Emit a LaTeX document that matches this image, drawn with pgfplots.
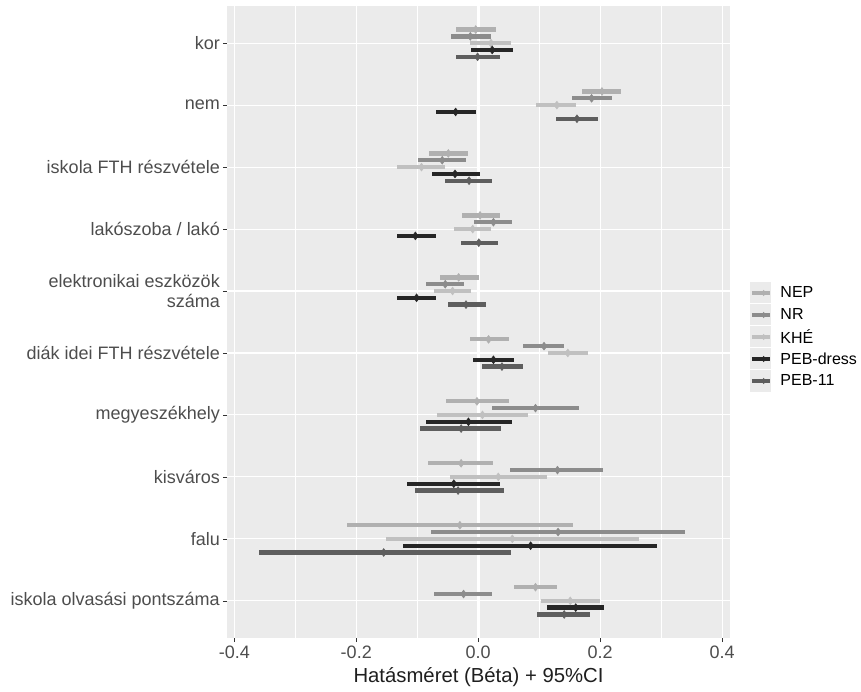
\documentclass[border=0pt]{standalone}
\usepackage{fontspec}
\setmainfont{Liberation Sans}
\usepackage{pgfplots}
\usepackage{pgfplotstable}
\pgfplotsset{compat=1.18}
\usetikzlibrary{shapes.geometric}

\definecolor{panelbg}{HTML}{EBEBEB}
\definecolor{keybg}{HTML}{EBEBEB}
\definecolor{tickgrey}{HTML}{4D4D4D}
\definecolor{cNEP}{HTML}{B0B0B0}
\definecolor{cNR}{HTML}{8C8C8C}
\definecolor{cKHE}{HTML}{C0C0C0}
\definecolor{cDRESS}{HTML}{262626}
\definecolor{cPEB}{HTML}{5E5E5E}

% cat: 0 = kor (felul) ... 9 = iskola olvasasi pontszama
\pgfplotstableread{
cat est lo hi
0 -0.004 -0.036 0.029
1 0.203 0.170 0.235
2 -0.049 -0.080 -0.016
3 0.003 -0.027 0.036
4 -0.032 -0.062 0.001
5 0.017 -0.013 0.050
6 -0.002 -0.052 0.050
7 -0.028 -0.083 0.025
8 -0.030 -0.215 0.155
9 0.094 0.058 0.129
}\nep
\pgfplotstableread{
cat est lo hi
0 -0.013 -0.045 0.021
1 0.186 0.154 0.220
2 -0.059 -0.098 -0.020
3 0.025 -0.007 0.056
4 -0.054 -0.086 -0.024
5 0.108 0.074 0.141
6 0.094 0.023 0.166
7 0.130 0.052 0.204
8 0.131 -0.077 0.339
9 -0.024 -0.072 0.023
}\nr
\pgfplotstableread{
cat est lo hi
0 0.021 -0.013 0.054
1 0.129 0.095 0.161
2 -0.093 -0.133 -0.055
3 -0.009 -0.039 0.021
4 -0.042 -0.072 -0.012
5 0.147 0.115 0.180
6 0.007 -0.068 0.081
7 0.033 -0.046 0.113
8 0.056 -0.152 0.264
9 0.151 0.103 0.200
}\khe
\pgfplotstableread{
cat est lo hi
0 0.023 -0.011 0.057
1 -0.037 -0.070 -0.004
2 -0.038 -0.076 0.003
3 -0.103 -0.133 -0.070
4 -0.101 -0.133 -0.070
5 0.025 -0.009 0.058
6 -0.016 -0.086 0.056
7 -0.040 -0.117 0.036
8 0.086 -0.123 0.294
9 0.160 0.113 0.207
}\dress
\pgfplotstableread{
cat est lo hi
0 -0.001 -0.036 0.036
1 0.162 0.127 0.196
2 -0.015 -0.054 0.023
3 0.001 -0.029 0.033
4 -0.020 -0.050 0.013
5 0.039 0.007 0.074
6 -0.028 -0.095 0.037
7 -0.033 -0.103 0.042
8 -0.155 -0.360 0.054
9 0.141 0.097 0.184
}\peb

\pgfplotsset{
  ci/.style={
    only marks, mark=diamond*, mark size=4pt,
    color=#1, mark options={fill=#1, draw=#1},
    error bars/.cd, x dir=both, x explicit, error mark=none,
    error bar style={line width=4.3pt, #1},
    /pgfplots/.cd,
  },
  kulcs/.style={
    legend image code/.code={
      \fill[keybg, draw=none] (0pt,-10.5pt) rectangle (21pt,10.5pt);
      \draw[#1, line width=3.5pt] (1.5pt,0pt) -- (19.5pt,0pt);
      \node[diamond, fill=#1, draw=none, inner sep=0pt, minimum width=5pt, minimum height=6.5pt] at (10.5pt,0pt) {};
      \path[draw=none, fill=none] (0pt,0pt) -- (30pt,0pt);
    }
  },
}

\begin{document}
\begin{tikzpicture}
\useasboundingbox (-227pt,-54pt) rectangle (634pt,638pt);
\begin{axis}[
  scale only axis,
  width=503pt, height=632pt,
  xmin=-0.412, xmax=0.413,
  ymin=-0.6, ymax=9.6,
  y dir=reverse,
  axis background/.style={fill=panelbg},
  axis line style={draw=none},
  tick pos=left,
  tick align=outside,
  major tick length=4pt,
  minor tick length=0pt,
  tick style={black!80, line width=0.6pt},
  xtick={-0.4,-0.2,0,0.2,0.4},
  xticklabels={-0.4,-0.2,0.0,0.2,0.4},
  minor xtick={-0.3,-0.1,0.1,0.3},
  ytick={0,...,9},
  yticklabels={kor, nem, iskola FTH részvétele, lakószoba / lakó, {elektronikai eszközök\\száma}, diák idei FTH részvétele, megyeszékhely, kisváros, falu, iskola olvasási pontszáma},
  xmajorgrids, xminorgrids, ymajorgrids,
  major grid style={white, line width=1.1pt},
  minor grid style={white, line width=0.55pt},
  yticklabel style={font=\fontsize{18}{19.5}\selectfont, text=tickgrey, align=right, inner sep=0pt, xshift=-3pt},
  xticklabel style={font=\fontsize{18}{19.5}\selectfont, text=tickgrey, inner sep=0pt, yshift=-4pt},
  xlabel={Hatásméret (Béta) + 95\%CI},
  xlabel style={font=\fontsize{20.3}{22}\selectfont, text=black!88, at={(axis description cs:0.5,0)}, anchor=center, yshift=-39pt},
  legend style={at={(1,0.5)}, anchor=west, xshift=20pt, yshift=-15pt,
    draw=none, fill=none, inner sep=0pt, row sep=1pt,
    font=\fontsize{16}{17}\selectfont,
    nodes={inner xsep=0pt, inner ysep=0pt, anchor=west}},
  legend cell align=left,
]
\addplot[white, line width=2.7pt, forget plot] coordinates {(0,-0.6) (0,9.6)};

\addplot[ci=cNEP, kulcs=cNEP] table[x=est, y expr=\thisrow{cat}-0.22,
  x error plus expr=\thisrow{hi}-\thisrow{est}, x error minus expr=\thisrow{est}-\thisrow{lo}] {\nep};
\addlegendentry{NEP}
\addplot[ci=cNR, kulcs=cNR] table[x=est, y expr=\thisrow{cat}-0.11,
  x error plus expr=\thisrow{hi}-\thisrow{est}, x error minus expr=\thisrow{est}-\thisrow{lo}] {\nr};
\addlegendentry{NR}
\addplot[ci=cKHE, kulcs=cKHE] table[x=est, y expr=\thisrow{cat},
  x error plus expr=\thisrow{hi}-\thisrow{est}, x error minus expr=\thisrow{est}-\thisrow{lo}] {\khe};
\addlegendentry{KHÉ}
\addplot[ci=cDRESS, kulcs=cDRESS] table[x=est, y expr=\thisrow{cat}+0.11,
  x error plus expr=\thisrow{hi}-\thisrow{est}, x error minus expr=\thisrow{est}-\thisrow{lo}] {\dress};
\addlegendentry{PEB-dress}
\addplot[ci=cPEB, kulcs=cPEB] table[x=est, y expr=\thisrow{cat}+0.22,
  x error plus expr=\thisrow{hi}-\thisrow{est}, x error minus expr=\thisrow{est}-\thisrow{lo}] {\peb};
\addlegendentry{PEB-11}
\end{axis}
\end{tikzpicture}
\end{document}
